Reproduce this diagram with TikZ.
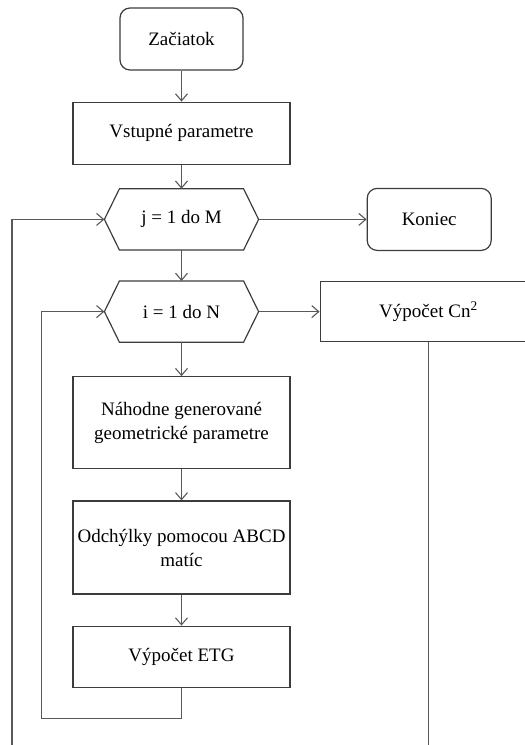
\documentclass[tikz,border=0pt]{standalone}
\usepackage{fontspec}
\setmainfont{Liberation Serif}
\usepackage{tikz}
\usetikzlibrary{arrows.meta,positioning}
\definecolor{ink}{HTML}{3C3C3C}

\begin{document}
\begin{tikzpicture}[
  node distance=15.5pt,
  flow/.style={-{Straight Barb[length=3.5pt,width=6pt]}, line width=0.55pt, draw=ink!85},
  wire/.style={line width=0.55pt, draw=ink!85},
  block/.style={draw=ink, line width=0.6pt, align=center, inner sep=2pt,
    font=\fontsize{9.5}{12}\selectfont},
  terminal/.style={block, rounded corners=5pt, minimum width=61.5pt, minimum height=31pt},
  process/.style={block, minimum width=108.5pt, minimum height=31pt},
  loophex/.style={block, draw=none, minimum width=76.5pt, minimum height=30pt},
  hexline/.style={draw=ink, line width=0.6pt}
]
\useasboundingbox (0,0) rectangle (262.5pt,-372.5pt);
\node[terminal] (start) at (90.75pt,-19.5pt) {Začiatok};
\node[process, below=of start] (input) {Vstupné parametre};
\node[loophex, below=12pt of input] (jloop) {j = 1 do M};
\node[loophex, below=of jloop] (iloop) {i = 1 do N};
\node[process, minimum height=46pt, below=17pt of iloop] (random) {Náhodne generované\\geometrické parametre};
\node[process, minimum height=46.5pt, below=of random] (abcd) {Odchýlky pomocou ABCD\\matíc};
\node[process, minimum height=30.5pt, below=of abcd] (etg) {Výpočet ETG};
\node[terminal, minimum width=62pt, right=54pt of jloop] (stop) {Koniec};
\node[process, minimum height=30pt, right=30.5pt of iloop] (cn) {Výpočet Cn\textsuperscript{2}};
\coordinate (outerfoot) at (6pt,-372.5pt);
\coordinate[left=31.5pt of iloop.west] (innerturn);
% hexagon outlines of the two loop heads
\foreach \n in {jloop,iloop}
  \draw[hexline] (\n.west) -- ([xshift=7.5pt]\n.north west) -- ([xshift=-7.5pt]\n.north east)
    -- (\n.east) -- ([xshift=-7.5pt]\n.south east) -- ([xshift=7.5pt]\n.south west) -- cycle;
\draw[flow] (start) -- (input);
\draw[flow] (input) -- (jloop);
\draw[flow] (jloop) -- (iloop);
\draw[flow] (iloop) -- (random);
\draw[flow] (random) -- (abcd);
\draw[flow] (abcd) -- (etg);
\draw[flow] (jloop.east) -- (stop.west);
\draw[flow] (iloop.east) -- (cn.west);
% return paths of both loops
\draw[flow] (etg.south) -- ++(0,-15.5pt) -| (innerturn) -- (iloop.west);
\draw[flow] (outerfoot) |- (jloop.west);
\draw[wire] (cn.south) -- (cn.south |- outerfoot);
\end{tikzpicture}
\end{document}
